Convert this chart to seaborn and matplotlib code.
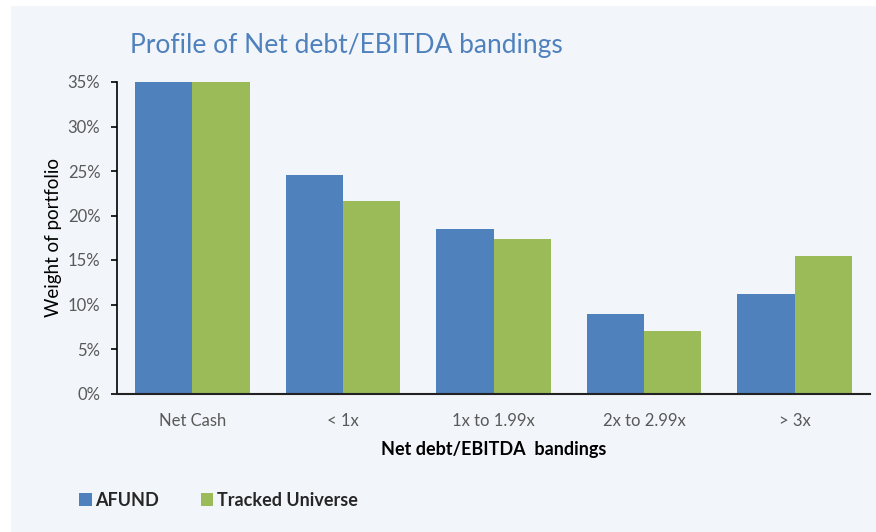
import matplotlib
matplotlib.use("Agg")
import matplotlib.pyplot as plt
import seaborn as sns
import pandas as pd
from matplotlib.patches import Rectangle
from matplotlib.ticker import FuncFormatter

categories = ["Net Cash", "< 1x", "1x to 1.99x", "2x to 2.99x", "> 3x"]
afund = [35.0, 24.6, 18.5, 8.9, 11.2]
tracked = [35.0, 21.6, 17.4, 7.0, 15.4]
series_names = ["AFUND", "Tracked Universe"]
yticks = [0, 5, 10, 15, 20, 25, 30, 35]

df = pd.DataFrame({
    "band": categories * 2,
    "value": afund + tracked,
    "series": [series_names[0]] * len(categories) + [series_names[1]] * len(categories),
})

sns.set_theme(style="white")
plt.rcParams["font.family"] = ["Lato", "DejaVu Sans"]

bg = "#F2F5FA"
fig = plt.figure(figsize=(8.76, 5.32), dpi=100, facecolor="white")
fig.patches.append(Rectangle((11 / 876, 0), 1 - 11 / 876, 1 - 6 / 532,
                             transform=fig.transFigure, facecolor=bg,
                             edgecolor="none", zorder=-10))
ax = fig.add_axes([117 / 876, 1 - 393.5 / 532, (870 - 117) / 876, (393.5 - 82) / 532])
ax.set_facecolor(bg)

palette = {"AFUND": "#4F81BD", "Tracked Universe": "#9BBB59"}
sns.barplot(data=df, x="band", y="value", hue="series", order=categories,
            hue_order=series_names, palette=palette, width=0.76,
            saturation=1, ax=ax, legend=False, linewidth=0)

ax.set_ylim(0, 35)
ax.set_xlim(-0.5, len(categories) - 0.5)
ax.set_yticks(yticks)
ax.yaxis.set_major_formatter(FuncFormatter(lambda v, p: f"{v:.0f}%"))
for s in ["top", "right"]:
    ax.spines[s].set_visible(False)
ax.spines["left"].set_color("black")
ax.spines["bottom"].set_color("#222222")
ax.spines["left"].set_linewidth(1.2)
ax.spines["bottom"].set_linewidth(1.5)
ax.tick_params(axis="y", left=True, length=4, width=1.2, color="black",
               labelsize=12, labelcolor="#595959", pad=8)
ax.tick_params(axis="x", bottom=False, labelsize=12, labelcolor="#595959", pad=8)
ax.set_xlabel("Net debt/EBITDA  bandings", fontsize=13, fontweight="bold",
              color="black", labelpad=9)
ax.set_ylabel("Weight of portfolio", fontsize=13.5, color="black", labelpad=4)

fig.text(130 / 876, 1 - 46 / 532, "Profile of Net debt/EBITDA bandings",
         fontsize=19, color="#4F81BD", va="center", ha="left")

handles = [Rectangle((0, 0), 1, 1, facecolor=palette[n], edgecolor="none") for n in series_names]
leg = fig.legend(handles, series_names, loc="center left",
                 bbox_to_anchor=(63 / 876, 1 - 500 / 532), ncol=2, frameon=False,
                 handlelength=0.7, handleheight=0.7, handletextpad=0.2,
                 columnspacing=2.3, prop={"size": 13, "weight": "bold"})

fig.savefig("out.png", dpi=100, facecolor="white")
